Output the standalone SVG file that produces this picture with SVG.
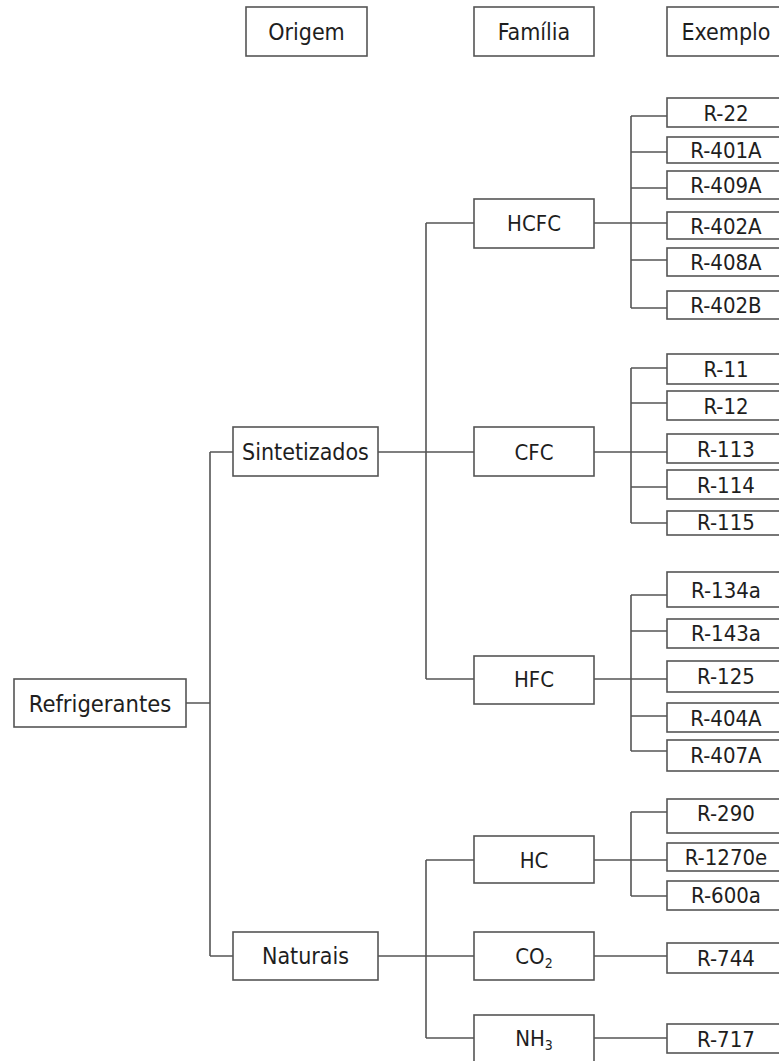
<svg xmlns="http://www.w3.org/2000/svg" width="779" height="1061" viewBox="0 0 779 1061">
<style>
rect{fill:#fff;stroke:#555;stroke-width:1.6}
text{font-family:"DejaVu Sans Condensed","Liberation Sans Narrow","Liberation Sans",sans-serif;fill:#1e1e1e;text-anchor:middle}
.h{font-size:23px}
.o{font-size:23px}
.f{font-size:22px}
.e{font-size:22px}
.c path{fill:none;stroke:#555;stroke-width:1.6}
</style>
<rect width="779" height="1061" style="fill:#fff;stroke:none"/>
<g class="c" id="connectors">
<path d="M186 703H210M210 452V956M210 452H233M210 956H233"/>
<path d="M378 452H474M426 223V679M426 223H474M426 679H474"/>
<path d="M378 956H474M426 860V1038M426 860H474M426 1038H474"/>
<path d="M594 223H667M631 116V308M631 116H667M631 152H667M631 188H667M631 260H667M631 308H667"/>
<path d="M594 452H667M631 368V523M631 368H667M631 403H667M631 487H667M631 523H667"/>
<path d="M594 679H667M631 595V751M631 595H667M631 631H667M631 716H667M631 751H667"/>
<path d="M594 860H667M631 812V896M631 812H667M631 896H667"/>
<path d="M594 956H667M594 1038H667"/>
</g>
<g id="h-origem"><rect x="246" y="7" width="121" height="49"/><text class="h" x="306.5" y="40">Origem</text></g>
<g id="h-familia"><rect x="474" y="7" width="120" height="49"/><text class="h" x="534" y="40">Família</text></g>
<g id="h-exemplo"><rect x="667" y="7" width="118" height="49"/><text class="h" x="726" y="40">Exemplo</text></g>
<g id="refrigerantes"><rect x="14" y="679" width="172" height="48"/><text style="font-size:23.5px" x="100" y="712">Refrigerantes</text></g>
<g id="sintetizados"><rect x="233" y="427" width="145" height="49"/><text class="o" x="305.5" y="460">Sintetizados</text></g>
<g id="naturais"><rect x="233" y="932" width="145" height="48"/><text class="o" x="305.5" y="964">Naturais</text></g>
<g id="hcfc"><rect x="474" y="199" width="120" height="49"/><text class="f" x="534" y="231">HCFC</text></g>
<g id="cfc"><rect x="474" y="427" width="120" height="49"/><text class="f" x="534" y="460">CFC</text></g>
<g id="hfc"><rect x="474" y="656" width="120" height="48"/><text class="f" x="534" y="687">HFC</text></g>
<g id="hc"><rect x="474" y="836" width="120" height="47"/><text class="f" x="534" y="868">HC</text></g>
<g id="co2"><rect x="474" y="932" width="120" height="48"/><text class="f" x="534" y="964">CO<tspan style="font-size:14px" dy="4">2</tspan></text></g>
<g id="nh3"><rect x="474" y="1015" width="120" height="50"/><text class="f" x="534" y="1046">NH<tspan style="font-size:14px" dy="4">3</tspan></text></g>
<g id="r22"><rect x="667" y="98" width="118" height="29"/><text class="e" x="726" y="120.5">R-22</text></g>
<g id="r401a"><rect x="667" y="137" width="118" height="26"/><text class="e" x="726" y="158">R-401A</text></g>
<g id="r409a"><rect x="667" y="171" width="118" height="28"/><text class="e" x="726" y="193">R-409A</text></g>
<g id="r402a"><rect x="667" y="212" width="118" height="27"/><text class="e" x="726" y="233.5">R-402A</text></g>
<g id="r408a"><rect x="667" y="248" width="118" height="28"/><text class="e" x="726" y="270">R-408A</text></g>
<g id="r402b"><rect x="667" y="291" width="118" height="28"/><text class="e" x="726" y="313">R-402B</text></g>
<g id="r11"><rect x="667" y="354" width="118" height="30"/><text class="e" x="726" y="377">R-11</text></g>
<g id="r12"><rect x="667" y="391" width="118" height="29"/><text class="e" x="726" y="413.5">R-12</text></g>
<g id="r113"><rect x="667" y="434" width="118" height="29"/><text class="e" x="726" y="456.5">R-113</text></g>
<g id="r114"><rect x="667" y="470" width="118" height="29"/><text class="e" x="726" y="492.5">R-114</text></g>
<g id="r115"><rect x="667" y="511" width="118" height="24"/><text class="e" x="726" y="529.5">R-115</text></g>
<g id="r134a"><rect x="667" y="572" width="118" height="35"/><text class="e" x="726" y="597.5">R-134a</text></g>
<g id="r143a"><rect x="667" y="619" width="118" height="29"/><text class="e" x="726" y="640.5">R-143a</text></g>
<g id="r125"><rect x="667" y="661" width="118" height="31"/><text class="e" x="726" y="683.5">R-125</text></g>
<g id="r404a"><rect x="667" y="703" width="118" height="29"/><text class="e" x="726" y="725.5">R-404A</text></g>
<g id="r407a"><rect x="667" y="740" width="118" height="31"/><text class="e" x="726" y="762.5">R-407A</text></g>
<g id="r290"><rect x="667" y="799" width="118" height="34"/><text class="e" x="726" y="820.5">R-290</text></g>
<g id="r1270e"><rect x="667" y="843" width="118" height="28"/><text class="e" x="726" y="865">R-1270e</text></g>
<g id="r600a"><rect x="667" y="881" width="118" height="29"/><text class="e" x="726" y="903">R-600a</text></g>
<g id="r744"><rect x="667" y="943" width="118" height="30"/><text class="e" x="726" y="965.5">R-744</text></g>
<g id="r717"><rect x="667" y="1024" width="118" height="29"/><text class="e" x="726" y="1046.5">R-717</text></g>
</svg>
